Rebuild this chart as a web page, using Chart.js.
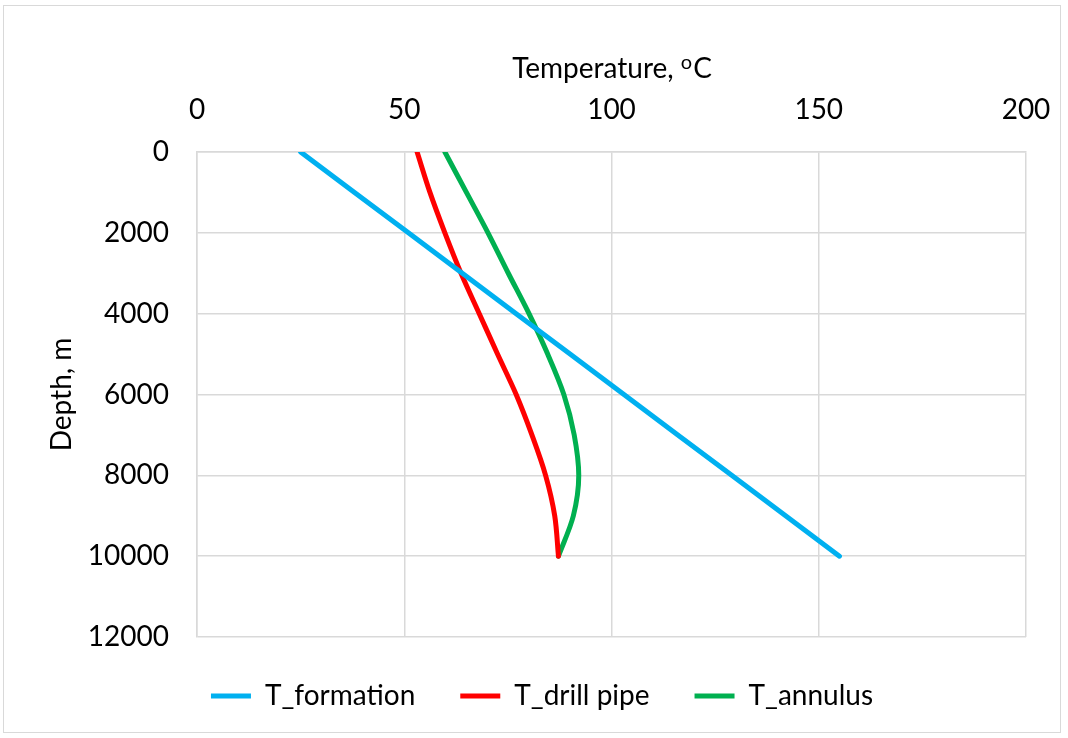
<!DOCTYPE html>
<html>
<head>
<meta charset="utf-8">
<title>Temperature profile</title>
<script src="https://cdn.jsdelivr.net/npm/chart.js@4"></script>
<style>
  html, body { margin: 0; padding: 0; background: #fff; }
  #frame {
    position: absolute; left: 3px; top: 5px; width: 1058px; height: 728px;
    border: 1px solid #d9d9d9; box-sizing: border-box;
  }
  #wrap { position: absolute; left: 0; top: 0; width: 1068px; height: 738px; }
</style>
</head>
<body>
<div id="frame"></div>
<div id="wrap"><canvas id="grafico"></canvas></div>
<script>
// profundidade (m) e temperaturas (°C) ao longo do poço
const profundidade = [0, 1000, 2000, 3000, 4000, 5000, 6000, 7000, 8000, 9000, 10000];
const tFormacao = [25, 38, 51, 64, 77, 90, 103, 116, 129, 142, 155];
const tDrillPipe = [53.1, 56.2, 59.8, 63.7, 68.1, 72.5, 77.0, 80.8, 84.1, 86.3, 87.2];
const tAnular = [59.8, 65.0, 70.2, 75.1, 80.1, 84.6, 88.5, 91.0, 92.1, 90.8, 87.2];

const nomesSeries = ['T_formation', 'T_drill pipe', 'T_annulus'];
const coresSeries = ['#00B0F0', '#FF0000', '#00B050'];

const ticksTemperatura = [0, 50, 100, 150, 200];
const ticksProfundidade = [0, 2000, 4000, 6000, 8000, 10000, 12000];

const fonte = 'Lato, "Open Sans", sans-serif';
const tamFonte = 28;
const corGrade = '#d9d9d9';

// monta os pontos {x: temperatura, y: profundidade}
function pontos(temps) {
  return temps.map((t, i) => ({ x: t, y: profundidade[i] }));
}

// curvas suavizadas ao longo da profundidade (eixo y)
const datasets = [tFormacao, tDrillPipe, tAnular].map((serie, i) => ({
  label: nomesSeries[i],
  data: pontos(serie),
  indexAxis: 'y',
  borderColor: coresSeries[i],
  backgroundColor: coresSeries[i],
  borderWidth: 5,
  borderCapStyle: 'round',
  showLine: true,
  cubicInterpolationMode: i === 0 ? 'default' : 'monotone',
  tension: 0,
  pointRadius: 0,
  pointHoverRadius: 0,
  pointStyle: 'line'
}));

// título do eixo de temperatura com o "o" sobrescrito
const tituloTemperatura = {
  id: 'tituloTemperatura',
  afterDraw(chart) {
    const c = chart.ctx;
    const area = chart.chartArea;
    const base = 'Temperature, ';
    const sup = 'o';
    const fim = 'C';
    const yBase = 78;
    const tamSup = Math.round(tamFonte * 0.72);
    c.save();
    c.fillStyle = '#000';
    c.textBaseline = 'alphabetic';
    c.font = `${tamFonte}px ${fonte}`;
    const wBase = c.measureText(base).width;
    const wFim = c.measureText(fim).width;
    c.font = `${tamSup}px ${fonte}`;
    const wSup = c.measureText(sup).width;
    let x = (area.left + area.right) / 2 - (wBase + wSup + wFim) / 2;
    c.font = `${tamFonte}px ${fonte}`;
    c.fillText(base, x, yBase);
    x += wBase;
    c.font = `${tamSup}px ${fonte}`;
    c.fillText(sup, x, yBase - 9);
    x += wSup + 1;
    c.font = `${tamFonte}px ${fonte}`;
    c.fillText(fim, x, yBase);
    c.restore();
  }
};

const ctx = document.getElementById('grafico').getContext('2d');
const grafico = new Chart(ctx, {
  type: 'scatter',
  data: { datasets },
  plugins: [tituloTemperatura],
  options: {
    responsive: true,
    maintainAspectRatio: false,
    animation: false,
    layout: { padding: { left: 58, top: 0, right: 42, bottom: 18 } },
    plugins: {
      tooltip: { enabled: false },
      legend: {
        position: 'bottom',
        labels: {
          usePointStyle: true,
          pointStyleWidth: 40,
          padding: 45,
          color: '#000',
          font: { family: fonte, size: tamFonte }
        }
      }
    },
    scales: {
      x: {
        type: 'linear',
        position: 'top',
        min: 0,
        max: 200,
        afterBuildTicks: (scale) => { scale.ticks = ticksTemperatura.map(v => ({ value: v })); },
        afterFit: (scale) => {
          scale.height = 152;
          scale.paddingLeft = 0;
          scale.paddingRight = 0;
        },
        grid: { color: corGrade, lineWidth: 1.5, drawTicks: false },
        border: { color: corGrade, width: 1.5 },
        ticks: { color: '#000', padding: 25, font: { family: fonte, size: tamFonte } }
      },
      y: {
        type: 'linear',
        reverse: true,
        min: 0,
        max: 12000,
        afterBuildTicks: (scale) => { scale.ticks = ticksProfundidade.map(v => ({ value: v })); },
        afterFit: (scale) => { scale.width = 139; },
        grid: { color: corGrade, lineWidth: 1.5, drawTicks: false },
        border: { color: corGrade, width: 1.5 },
        ticks: {
          color: '#000',
          padding: 28,
          font: { family: fonte, size: tamFonte },
          callback: (v) => String(v)
        },
        title: {
          display: true,
          text: 'Depth, m',
          color: '#000',
          padding: { top: 0, bottom: 0 },
          font: { family: fonte, size: tamFonte, lineHeight: 0.3 }
        }
      }
    }
  }
});
</script>
</body>
</html>
